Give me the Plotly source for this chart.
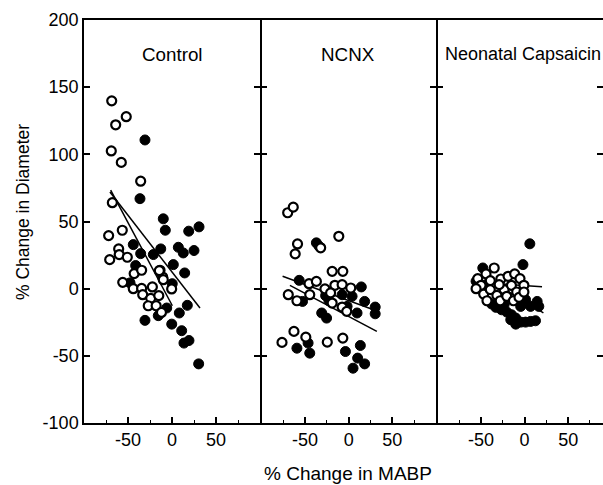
import plotly.graph_objects as go

# ---------------- data ----------------
panel_titles = ["Control", "NCNX", "Neonatal Capsaicin"]

# Control
ctrl_open_x = [-68.5, -64, -52, -69, -57.6, -35.6, -67.8, -56.5, -72, -60.6, -70.8, -60, -50.8, -43, -34.5,
               -56, -44, -34.5, -33.3, -22.3, -24.2, -15, -27, -18, -12, -13.6, -10.6, -0.4, -14.4, -9.9]
ctrl_open_y = [139.8, 122, 128, 102.5, 94, 80, 64, 43.5, 39.5, 29.6, 21.6, 25.4, 23.4, 11.2, 13.7,
               4.7, 0, 0.2, -4.5, 1.3, -7.2, -5.2, -12.7, -12.7, -17.7, 13.7, 8.7, -0.2, 13.4, 6.7]
ctrl_fill_x = [-30.7, -36.4, -9.9, -7.6, 19, 30.7, -44, -35.6, -12.8, -21.2, 7.2, 12.8, 25, -41.3, 1.5,
               14.4, -47.7, 0.3, -30.7, -15.6, -6, 8.3, 17.4, -0.3, 11, 13.6, 19.3, 30.3]
ctrl_fill_y = [110.7, 67, 52, 43.5, 42.8, 46, 32.8, 26.1, 29.6, 25.4, 30.8, 26.6, 28.4, 17.2, 17.9,
               11.7, 4.3, 3.7, -23.6, -20.1, -14.4, -18.1, -12.4, -26.4, -31.3, -40.5, -38.6, -56]
ctrl_line_open_x = [-69.7, 0.4]
ctrl_line_open_y = [73.4, -12.7]
ctrl_line_fill_x = [-70.5, 31.8]
ctrl_line_fill_y = [71.9, -14.4]

# NCNX
ncnx_open_x = [-70, -63.6, -58.7, -61.4, -32.2, -11.4, -19, -6.8, -45.5, -37.1, -27.3, -15.9, -7.6, 2.3,
               -69.3, -59.4, -44.7, -19, -7.6, -2.3, -20.8, -62.8, -49.2, -76.5, -24.6, -6.8]
ncnx_open_y = [56.5, 60.7, 33.3, 25.9, 30.4, 39, 12.9, 12.9, 3.7, 5.4, -0.2, 2.5, 3, 0.5,
               -4.5, -9, -4.5, -10.7, -13.7, -16.9, -3.2, -31.8, -36.1, -40, -39.8, -36.8]
ncnx_fill_x = [-37.1, -34, -56.8, -26.5, -7.6, 3.8, 14.4, -53, -22.7, -1.9, 18.2, 30.3, 30.3, -31, -25.4,
               9.5, -59.4, -46.6, -44.7, -3.8, 13.3, 10.2, 18.2, 4.9]
ncnx_fill_y = [34.1, 31.6, 6.2, -5.2, -4.5, -5.7, 1.3, -9.5, -9, -13.2, -9.5, -13.7, -18.7, -18.1, -21.9,
               -18.1, -44.3, -40.5, -48, -46.8, -42.3, -51.7, -56, -59.2]
ncnx_line_open_x = [-75.8, 28.4]
ncnx_line_open_y = [9.2, -15.7]
ncnx_line_fill_x = [-67.4, 32.2]
ncnx_line_fill_y = [2.5, -31.8]

# Neonatal capsaicin
cap_fill_x = [6, -1.9, -48, -55.7, -37.9, -33, -26.5, -20.5, -15.1, -10.2, -4.5, 1.1, 6.8, 12.5, -10.2,
              -15.9, 16.3, 14.4, 6.8, -44.3, -23.5, -4.5, 1.1]
cap_fill_y = [33.4, 17.9, 15.4, 5.5, -11.4, -13.9, -15.7, -17.4, -19.4, -21.9, -24.9, -24.9, -24.4, -23.9, -26.4,
              -23.1, -13.2, -9.5, -13.2, 3, -11.9, -13.2, -8.2]
cap_open_x = [-34.9, -44.3, -53.8, -50, -39.4, -27.3, -19, -11.4, -5.3, -0.8, -55.7, -47, -39.4, -31.8,
              -23.5, -15.1, -9.1, -43.2, -28, -20.5, -12.8, -6.4, -0.8, -29.2]
cap_open_y = [15.4, 11, 7.5, 2.5, 6, 7.2, 9.2, 11, 7.5, 2.5, 0, -4, -0.7, -5,
              -0.7, 2.5, -2.5, -9, -9, -5.7, -9, -6.5, -2.5, 3]
cap_line_open_x = [-50, 20]
cap_line_open_y = [4.5, 1.5]
cap_line_fill_x = [-50, 21.6]
cap_line_fill_y = [10, -18]

x_ranges = [[-100, 100], [-100, 100], [-100, 90]]
y_ticks = [-100, -50, 0, 50, 100, 150, 200]
y_ticklabels = ["-100", "-50", "0", "50", "100", "150", "200"]
x_ticks = [-50, 0, 50]
x_ticklabels = ["-50", "0", "50"]
x_minor_ticks = [-75, -25, 25, 75]

panels = [
    (ctrl_open_x, ctrl_open_y, ctrl_fill_x, ctrl_fill_y,
     (ctrl_line_open_x, ctrl_line_open_y), (ctrl_line_fill_x, ctrl_line_fill_y)),
    (ncnx_open_x, ncnx_open_y, ncnx_fill_x, ncnx_fill_y,
     (ncnx_line_open_x, ncnx_line_open_y), (ncnx_line_fill_x, ncnx_line_fill_y)),
    (cap_open_x, cap_open_y, cap_fill_x, cap_fill_y,
     (cap_line_open_x, cap_line_open_y), (cap_line_fill_x, cap_line_fill_y)),
]

# ---------------- figure ----------------
W, H = 603, 485
ML, MR, MT, MB = 84, 0, 20, 62
pw = W - ML - MR
ph = H - MT - MB
LW = 1.5
edges_px = [84, 260, 436, 603]
domains = []
for i in range(3):
    start = edges_px[i] + (LW if i > 0 else 0)
    end = edges_px[i + 1]
    domains.append([(start - ML) / pw, (end - ML) / pw])

FONT = "Arial, Liberation Sans, Helvetica, sans-serif"
fig = go.Figure()

for i, (ox, oy, fx, fy, l1, l2) in enumerate(panels):
    xa = "x" if i == 0 else f"x{i+1}"
    ya = "y" if i == 0 else f"y{i+1}"
    for lx, ly in (l1, l2):
        fig.add_trace(go.Scatter(x=lx, y=ly, mode="lines", xaxis=xa, yaxis=ya,
                                 line=dict(color="black", width=1.5), showlegend=False))
    fig.add_trace(go.Scatter(x=fx, y=fy, mode="markers", xaxis=xa, yaxis=ya,
                             marker=dict(symbol="circle", size=10, color="black",
                                         line=dict(color="black", width=1)),
                             showlegend=False))
    fig.add_trace(go.Scatter(x=ox, y=oy, mode="markers", xaxis=xa, yaxis=ya,
                             marker=dict(symbol="circle", size=9, color="white",
                                         line=dict(color="black", width=2.2)),
                             showlegend=False))

layout = dict(
    width=W, height=H,
    margin=dict(l=ML, r=MR, t=MT, b=MB, pad=0),
    paper_bgcolor="white", plot_bgcolor="white",
    font=dict(family=FONT, color="black", size=18),
    showlegend=False,
)
for i in range(3):
    xk = "xaxis" if i == 0 else f"xaxis{i+1}"
    yk = "yaxis" if i == 0 else f"yaxis{i+1}"
    layout[xk] = dict(
        domain=domains[i], range=x_ranges[i], anchor="y" if i == 0 else f"y{i+1}",
        tickmode="array", tickvals=x_ticks, ticktext=x_ticklabels,
        ticks="inside", ticklen=6, tickwidth=1.5, tickcolor="black",
        minor=dict(tickvals=x_minor_ticks, ticks="inside", ticklen=3, tickwidth=1.2, tickcolor="black"),
        showline=True, linecolor="black", linewidth=LW, mirror=True,
        showgrid=False, zeroline=False, tickfont=dict(size=18, family=FONT),
        automargin=False, fixedrange=True,
    )
    layout[yk] = dict(
        domain=[0, 1], range=[-100, 200], anchor="x" if i == 0 else f"x{i+1}",
        tickmode="array", tickvals=y_ticks, ticktext=y_ticklabels,
        ticks="inside", ticklen=6, tickwidth=1.5, tickcolor="black",
        showticklabels=(i == 0),
        showline=True, linecolor="black", linewidth=LW, mirror="ticks",
        showgrid=False, zeroline=False, tickfont=dict(size=18, family=FONT),
        automargin=False, fixedrange=True,
    )
fig.update_layout(**layout)

def px_x(p):
    return (p - ML) / pw

def px_y(p):
    return (H - MB - p) / ph

title_pos = [(172, 54, "center", 18.8), (348, 54, "center", 18.8), (443, 54, "left", 18)]
for (tx, ty, anc, fs), t in zip(title_pos, panel_titles):
    fig.add_annotation(x=px_x(tx), y=px_y(ty), xref="paper", yref="paper", text=t,
                       showarrow=False, xanchor=anc, yanchor="middle",
                       font=dict(size=fs, family=FONT, color="black"))

fig.add_annotation(x=px_x(348), y=px_y(473), xref="paper", yref="paper", text="% Change in MABP",
                   showarrow=False, xanchor="center", yanchor="middle",
                   font=dict(size=19, family=FONT, color="black"))
fig.add_annotation(x=px_x(23), y=px_y(212), xref="paper", yref="paper", text="% Change in Diameter",
                   showarrow=False, xanchor="center", yanchor="middle", textangle=-90,
                   font=dict(size=17.5, family=FONT, color="black"))

fig.write_html("out.html", config={"displayModeBar": False},
               post_script="document.body.style.margin='0';document.body.style.overflow='hidden';")
